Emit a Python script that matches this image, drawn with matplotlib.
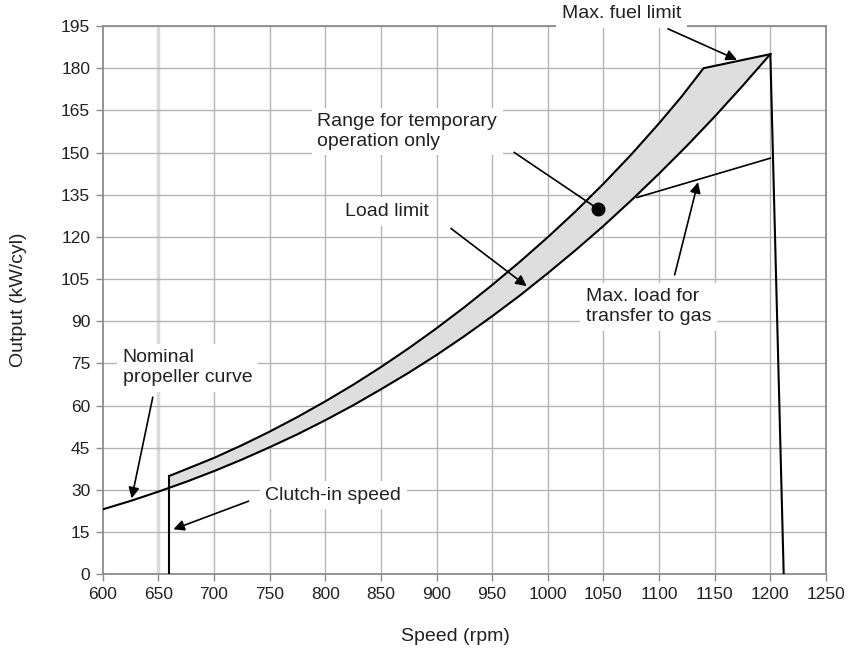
import numpy as np
import matplotlib
matplotlib.use("Agg")
import matplotlib.pyplot as plt

# Data
speed_prop = [600, 625, 650, 660, 675, 700, 725, 750, 775, 800, 825, 850, 875, 900,
              925, 950, 975, 1000, 1025, 1050, 1075, 1100, 1125, 1150, 1175, 1200]
output_prop = [23.1, 26.1, 29.4, 30.8, 32.9, 36.7, 40.8, 45.2, 49.8, 54.8, 60.1,
               65.8, 71.7, 78.0, 84.7, 91.8, 99.2, 107.1, 115.3, 123.9, 133.0,
               142.5, 152.4, 162.8, 173.7, 185]

speed_limit = [660, 700, 725, 750, 775, 800, 825, 850, 875, 900, 925, 950,
               975, 1000, 1025, 1050, 1075, 1100, 1120, 1140, 1200]
output_limit = [35, 41.4, 45.9, 50.75, 55.95, 61.5, 67.4, 73.7, 80.4, 87.5, 95.0,
                102.9, 111.2, 119.9, 129.1, 138.9, 149.3, 160.4, 169.8, 180, 185]

speed_drop = [1200, 1212]
output_drop = [185, 0]

speed_clutch = [660, 660]
output_clutch = [0, 35]

speed_gas = [1080, 1200]
output_gas = [134, 148]

temp_point = (1045, 130)

x_ticks = list(range(600, 1251, 50))
y_ticks = list(range(0, 196, 15))

# Format
plt.rcParams["font.family"] = ["Liberation Sans", "DejaVu Sans"]
text_color = "#222222"
grid_color = "#b4b4b4"
spine_color = "#8c8c8c"

fig = plt.figure(figsize=(8.51, 6.59), dpi=100)
ax = fig.add_axes([0.1207, 0.1285, 0.8499, 0.832])
ax.set_xlim(600, 1250)
ax.set_ylim(0, 195)
ax.set_xticks(x_ticks)
ax.set_yticks(y_ticks)
ax.tick_params(axis="both", direction="out", length=5, width=1, color=spine_color,
               labelsize=12.5, labelcolor=text_color, pad=4)

for s in ax.spines.values():
    s.set_color(spine_color)
    s.set_linewidth(1.3)

# grid
for x in x_ticks[1:-1]:
    if x == 650:
        ax.axvline(x, color="#dadada", lw=2.5, zorder=0)
    else:
        ax.axvline(x, color=grid_color, lw=1, zorder=0)
for y in y_ticks[1:]:
    ax.axhline(y, color=grid_color, lw=1, zorder=0)

# shaded band between load limit and propeller curve
band_x = speed_limit + [s for s in speed_prop[::-1] if s >= 660]
band_y = output_limit + [o for s, o in zip(speed_prop[::-1], output_prop[::-1]) if s >= 660]
ax.fill(band_x, band_y, facecolor="#dedede", edgecolor="none", zorder=1)

lw = 1.5
ax.plot(speed_prop, output_prop, color="black", lw=lw, zorder=3)
ax.plot(speed_limit, output_limit, color="black", lw=lw, zorder=3)
ax.plot(speed_drop, output_drop, color="black", lw=lw, zorder=3)
ax.plot(speed_clutch, output_clutch, color="black", lw=lw, zorder=3)
ax.plot(speed_gas, output_gas, color="black", lw=1.2, zorder=3)
ax.plot(*temp_point, "o", color="black", markersize=9, zorder=4)

# annotations
fs = 14
box = dict(facecolor="white", edgecolor="none", pad=4)
arrow = dict(arrowstyle="-|>", color="black", lw=1.2, mutation_scale=16,
             shrinkA=0, shrinkB=0)

ax.text(1066, 199.5, "Max. fuel limit", fontsize=fs, color=text_color,
        ha="center", va="center", bbox=box, clip_on=False, zorder=5)
ax.annotate("", xy=(1170, 183), xytext=(1108, 194), arrowprops=arrow,
            annotation_clip=False, zorder=5)

ax.text(793, 157.5, "Range for temporary\noperation only", fontsize=fs,
        color=text_color, ha="left", va="center", bbox=box, zorder=5)
ax.plot([970, 1043], [150, 130.5], color="black", lw=1.2, zorder=4)

ax.text(818, 129, "Load limit", fontsize=fs, color=text_color,
        ha="left", va="center", bbox=box, zorder=5)
ax.annotate("", xy=(981, 102.5), xytext=(913, 123), arrowprops=arrow, zorder=5)

ax.text(1034, 95.2, "Max. load for\ntransfer to gas", fontsize=fs,
        color=text_color, ha="left", va="center", bbox=box, zorder=5)
ax.annotate("", xy=(1135, 139.5), xytext=(1114, 106.5), arrowprops=arrow, zorder=5)

ax.text(618, 73.5, "Nominal\npropeller curve", fontsize=fs, color=text_color,
        ha="left", va="center", bbox=box, zorder=5)
ax.annotate("", xy=(626, 27), xytext=(645, 63), arrowprops=arrow, zorder=5)

ax.text(746, 28.2, "Clutch-in speed", fontsize=fs, color=text_color,
        ha="left", va="center", bbox=box, zorder=5)
ax.annotate("", xy=(663.5, 16), xytext=(731, 26), arrowprops=arrow, zorder=5)

ax.set_xlabel("Speed (rpm)", fontsize=fs, color=text_color)
ax.set_ylabel("Output (kW/cyl)", fontsize=fs, color=text_color)
ax.xaxis.set_label_coords(0.487, -0.1125)
ax.yaxis.set_label_coords(-0.117, 0.5)
ax.xaxis.label.set_va("center")
ax.yaxis.label.set_va("center")

fig.savefig("out.png", dpi=100)
